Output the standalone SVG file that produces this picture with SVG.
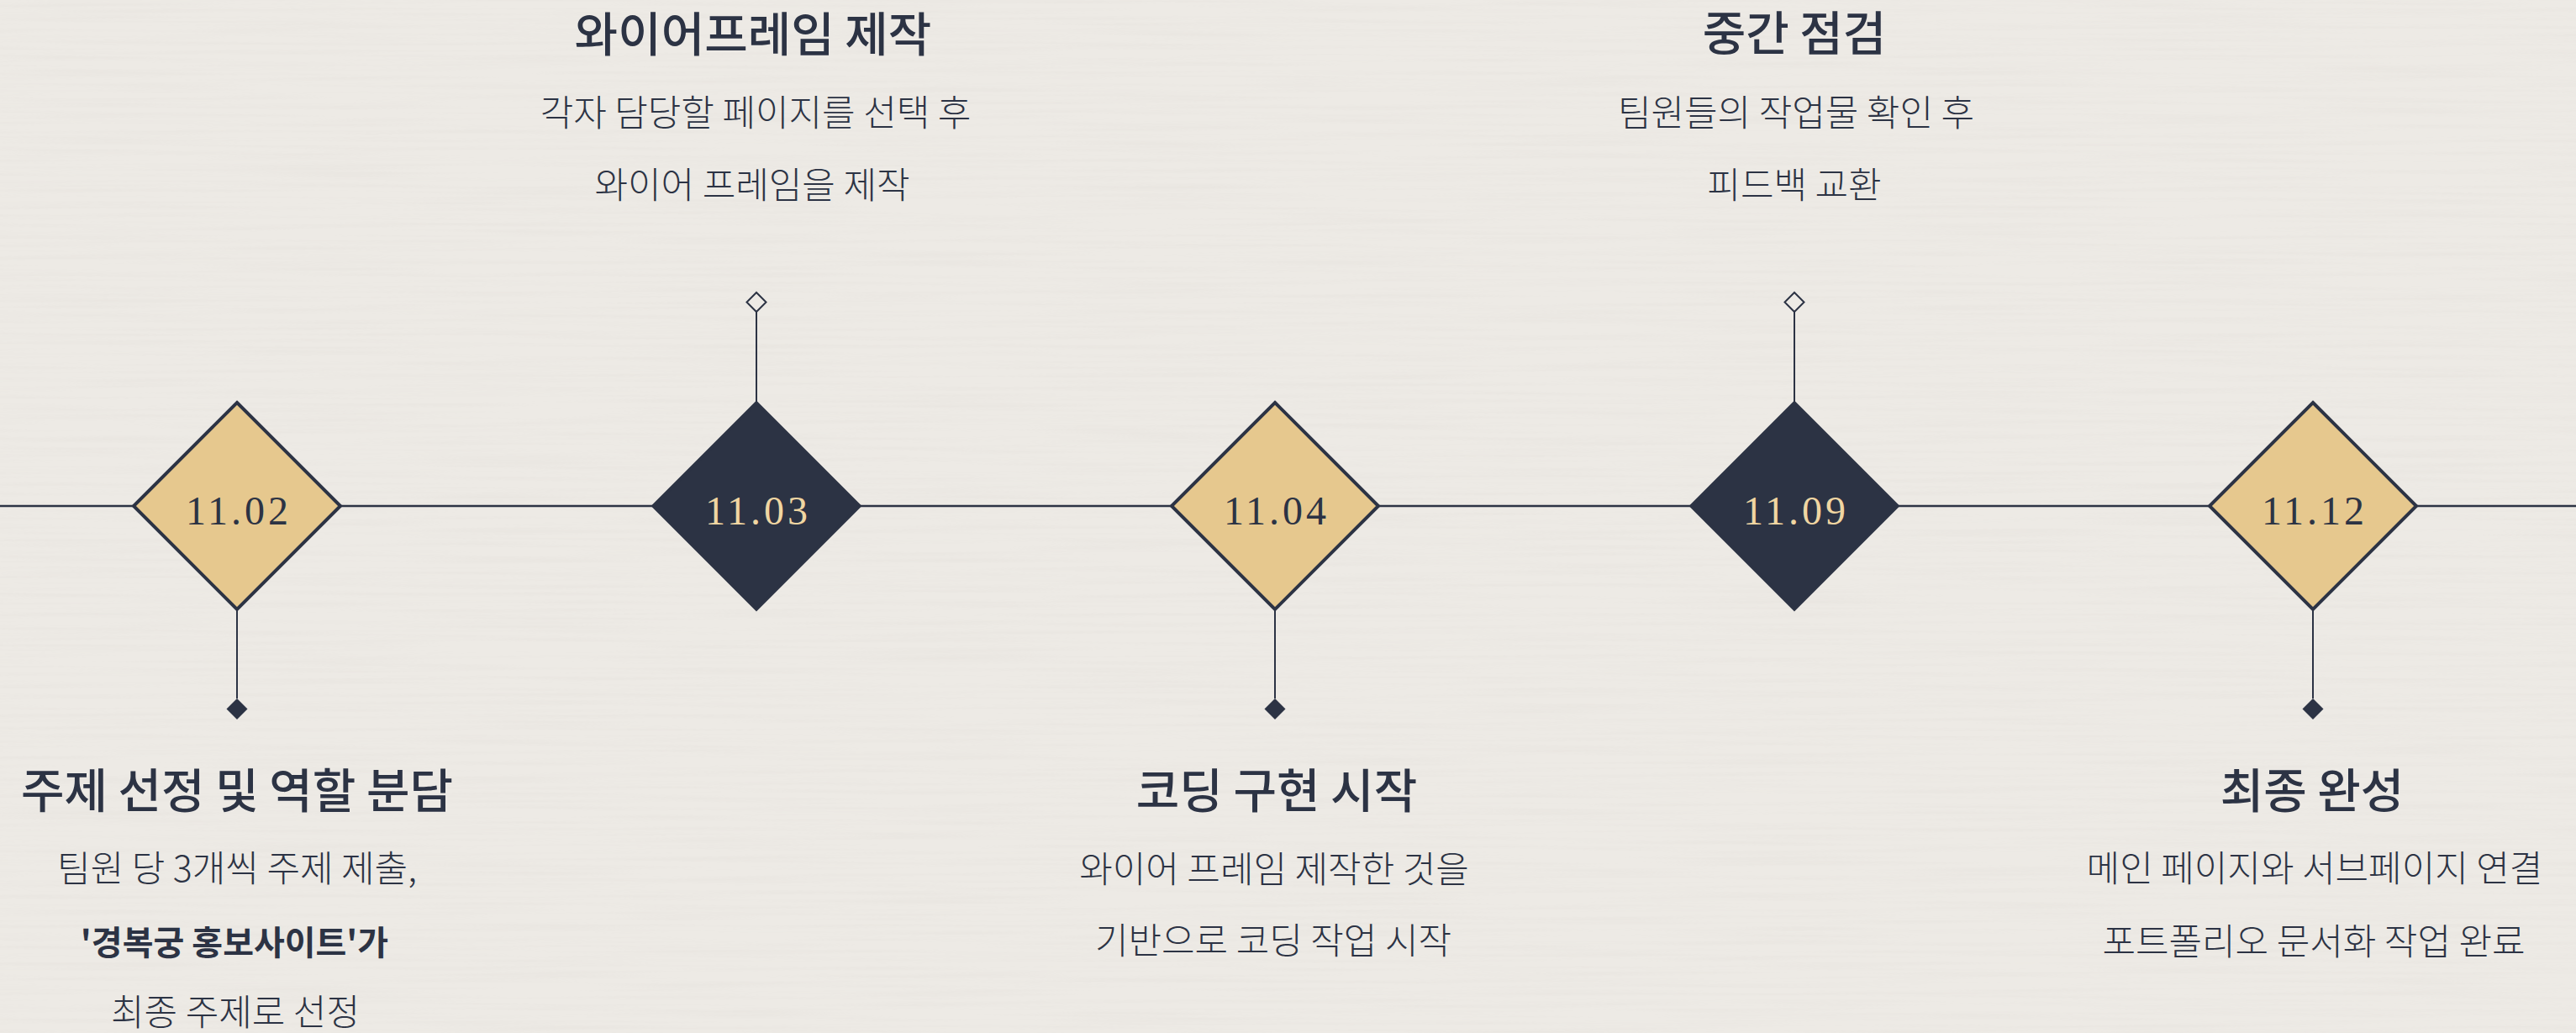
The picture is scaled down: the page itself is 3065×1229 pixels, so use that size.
<svg xmlns="http://www.w3.org/2000/svg" width="3065" height="1229" viewBox="0 0 3065 1229">
<style>
.bg{fill:#EDEAE5}
.gold{fill:#E6C88E;stroke:#2C3344;stroke-width:4;stroke-linejoin:miter}
.dark{fill:#2C3344;stroke:#2C3344;stroke-width:3.5}
.date{font-family:"Liberation Serif","DejaVu Serif",serif;font-size:48px;letter-spacing:4px;text-anchor:middle}
.dg{fill:#2C3344}
.dd{fill:#F0D6A2}
.title{font-family:"Noto Sans CJK KR","Noto Sans",sans-serif;font-size:56px;font-weight:500;fill:#2C3344;text-anchor:middle}
.sub{font-family:"Noto Sans CJK KR","Noto Sans",sans-serif;font-size:43px;font-weight:300;fill:#2C3344;text-anchor:middle}
.subb{font-weight:600;font-size:40px}
.main{stroke:#2C3344;stroke-width:2.5;fill:none}
.stem{stroke:#2C3344;stroke-width:2;fill:none}
</style>
<defs>
<filter id="paper" x="0" y="0" width="100%" height="100%">
<feTurbulence type="fractalNoise" baseFrequency="0.004 0.2" numOctaves="2" seed="3" result="n"/>
<feColorMatrix in="n" type="matrix" values="0 0 0 0 0.55  0 0 0 0 0.52  0 0 0 0 0.48  0 0 0 0.9 -0.38"/>
</filter>
<marker id="endDown" markerUnits="userSpaceOnUse" markerWidth="30" markerHeight="30" refX="0" refY="0" orient="0" overflow="visible">
<polygon points="0,0 12.5,12.5 0,25 -12.5,12.5" fill="#2C3344"/>
</marker>
<marker id="endUp" markerUnits="userSpaceOnUse" markerWidth="30" markerHeight="30" refX="0" refY="0" orient="0" overflow="visible">
<polygon points="0,0 11.5,-11.5 0,-23 -11.5,-11.5" fill="#EDEAE5" stroke="#2C3344" stroke-width="2"/>
</marker>
</defs>
<rect class="bg" x="0" y="0" width="3065" height="1229"/>
<rect x="0" y="0" width="3065" height="1229" filter="url(#paper)" opacity="0.2"/>
<g id="connectors">
<line class="main" x1="0" y1="602" x2="3065" y2="602"/>
<line class="stem" x1="282" y1="725" x2="282" y2="831" marker-end="url(#endDown)"/>
<line class="stem" x1="900" y1="479" x2="900" y2="371" marker-end="url(#endUp)"/>
<line class="stem" x1="1517" y1="725" x2="1517" y2="831" marker-end="url(#endDown)"/>
<line class="stem" x1="2135" y1="479" x2="2135" y2="371" marker-end="url(#endUp)"/>
<line class="stem" x1="2752" y1="725" x2="2752" y2="831" marker-end="url(#endDown)"/>
</g>
<g id="node-1102">
<polygon class="gold" points="282,479 405,602 282,725 159,602"/>
<text class="date dg" x="284" y="624">11.02</text>
<text class="title" x="282" y="961">주제 선정 및 역할 분담</text>
<text class="sub" x="282" y="1049">팀원 당 3개씩 주제 제출,</text>
<text class="sub subb" x="279" y="1136">'경복궁 홍보사이트'가</text>
<text class="sub" x="280" y="1220">최종 주제로 선정</text>
</g>
<g id="node-1103">
<polygon class="dark" points="900,479 1023,602 900,725 777,602"/>
<text class="date dd" x="902" y="624">11.03</text>
<text class="title" x="896" y="61">와이어프레임 제작</text>
<text class="sub" x="899" y="150">각자 담당할 페이지를 선택 후</text>
<text class="sub" x="895" y="236">와이어 프레임을 제작</text>
</g>
<g id="node-1104">
<polygon class="gold" points="1517,479 1640,602 1517,725 1394,602"/>
<text class="date dg" x="1519" y="624">11.04</text>
<text class="title" x="1519" y="961">코딩 구현 시작</text>
<text class="sub" x="1516" y="1050">와이어 프레임 제작한 것을</text>
<text class="sub" x="1515" y="1135">기반으로 코딩 작업 시작</text>
</g>
<g id="node-1109">
<polygon class="dark" points="2135,479 2258,602 2135,725 2012,602"/>
<text class="date dd" x="2137" y="624">11.09</text>
<text class="title" x="2135" y="60">중간 점검</text>
<text class="sub" x="2137" y="150">팀원들의 작업물 확인 후</text>
<text class="sub" x="2135" y="236">피드백 교환</text>
</g>
<g id="node-1112">
<polygon class="gold" points="2752,479 2875,602 2752,725 2629,602"/>
<text class="date dg" x="2754" y="624">11.12</text>
<text class="title" x="2751" y="961">최종 완성</text>
<text class="sub" x="2754" y="1049">메인 페이지와 서브페이지 연결</text>
<text class="sub" x="2753" y="1136">포트폴리오 문서화 작업 완료</text>
</g>
</svg>
